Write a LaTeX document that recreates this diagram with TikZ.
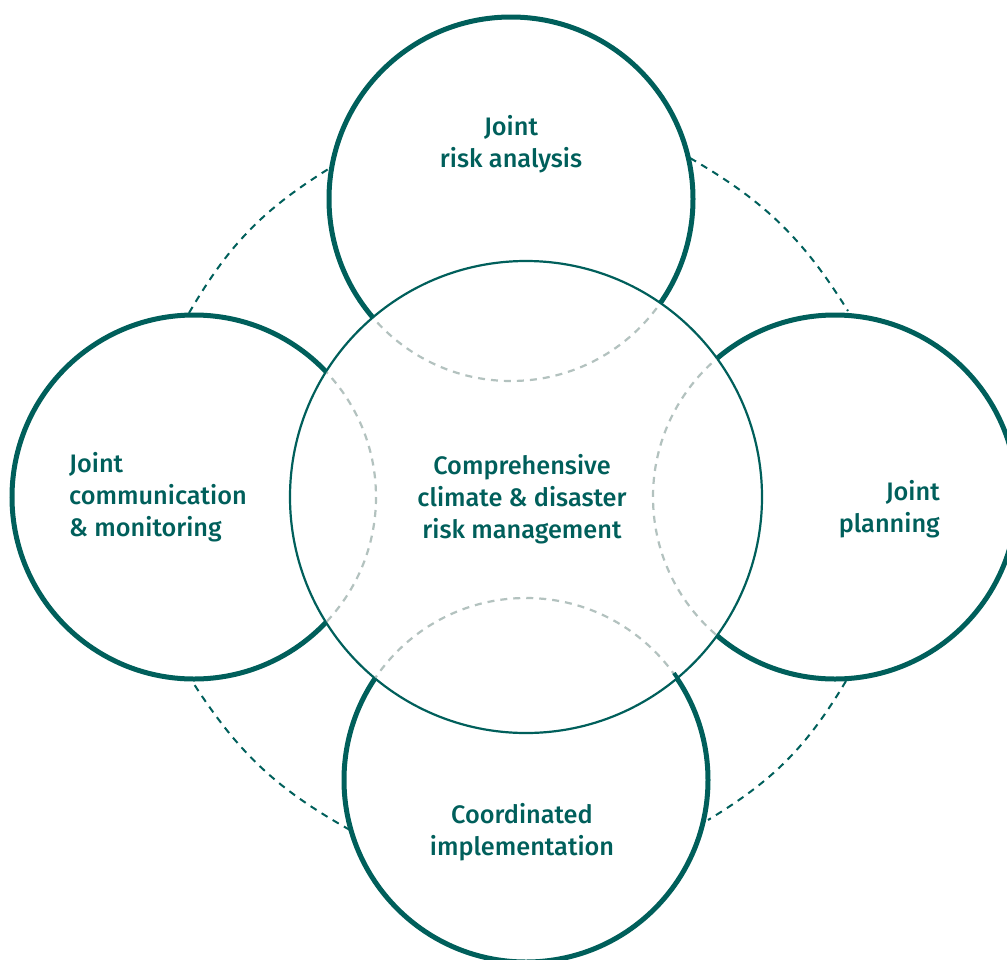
\documentclass[tikz,border=0pt]{standalone}
\usepackage{fontspec}
\setmainfont{Fira Sans Medium}
\definecolor{teal1}{HTML}{005F5B}
\definecolor{gray1}{HTML}{B3C2BF}
\begin{document}
\begin{tikzpicture}[x=1pt,y=-1pt,
 thick/.style={draw=teal1,line width=5pt},
 ghost/.style={draw=gray1,line width=2.2pt,dash pattern=on 7pt off 6pt},
 ring/.style={draw=teal1,line width=2pt,dash pattern=on 7pt off 6pt},
 lab/.style={text=teal1,font=\fontsize{25.3}{32}\selectfont,align=center,inner sep=0pt}]
\useasboundingbox (0,0) rectangle (1007,959);
\coordinate (r1a) at (189,313);\coordinate (r1b) at (330,168);
\coordinate (r2a) at (690,158);\coordinate (r2b) at (848,311);
\coordinate (r3a) at (846,681);\coordinate (r3b) at (708,820);
\coordinate (r4a) at (350,830);\coordinate (r4b) at (192,681);
\draw[ring] (r1a) to[bend left=14] (r1b);
\draw[ring] (r2a) to[bend left=14] (r2b);
\draw[ring] (r3a) to[bend left=14] (r3b);
\draw[ring] (r4a) to[bend left=14] (r4b);
\draw[thick] (511,199) circle (182);
\draw[thick] (835,497) circle (182);
\draw[thick] (526,780) circle (182);
\draw[thick] (194,497) circle (182);
\fill[white] (526,497) circle (236);
\draw[teal1,line width=2.2pt] (526,497) circle (236);
\begin{scope}
\clip (526,497) circle (235);
\draw[ghost] (511,199) circle (182);
\draw[ghost] (835,497) circle (182);
\draw[ghost] (526,780) circle (182);
\draw[ghost] (194,497) circle (182);
\end{scope}
\draw[teal1,line width=4pt] (678,679) -- (674,673);
\node[lab] (top) at (511,144) {Joint\\risk analysis};
\node[lab,align=left,anchor=west] (left) at (69,497) {Joint\\communication\\\& monitoring};
\node[lab,align=right,anchor=east] (right) at (940,509) {Joint\\planning};
\node[lab] (bot) at (522,832) {Coordinated\\implementation};
\node[lab] (mid) at (522,499) {Comprehensive\\climate \& disaster\\risk management};
\end{tikzpicture}
\end{document}
